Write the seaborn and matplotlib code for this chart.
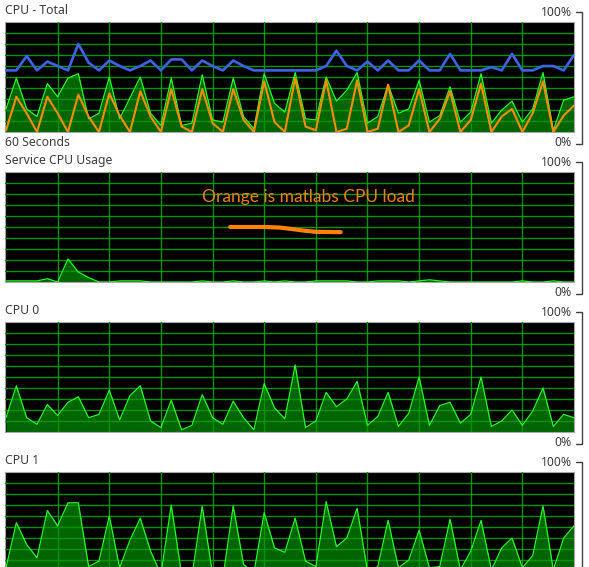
from matplotlib import pyplot as plt
import seaborn as sns
import pandas as pd
import numpy as np

# values, one sample per ~10 px, in percent
total_green = [21, 49, 21, 14, 44, 32, 49, 53, 12, 17, 50, 12, 31, 50, 17, 6, 49, 6, 8, 52,
               11, 9, 49, 14, 3, 53, 26, 18, 54, 12, 11, 50, 28, 38, 54, 8, 14, 43, 17, 21,
               47, 9, 15, 41, 9, 18, 53, 8, 20, 28, 9, 21, 54, 1.5, 29, 32]
total_blue = [56, 56, 69, 56, 64, 60, 56, 80, 63, 56, 65, 60, 56, 60, 65, 56, 66, 66, 56, 65,
              60, 56, 65, 60, 56, 56, 56, 56, 56, 56, 56, 60, 74, 60, 56, 64, 56, 65, 56, 56,
              65, 56, 56, 71, 56, 56, 56, 59, 56, 71, 56, 56, 60, 60, 56, 70]
total_orange = [1.5, 32, 17, 0, 32, 17, 0, 34, 14, 0, 35, 15, 0, 37, 14, 0, 39, 5, 0, 39,
                8, 0, 39, 11, 0, 46, 9, 0, 49, 5, 1.5, 47, 0, 3, 47, 0, 3, 43, 0, 6,
                39, 0, 12, 37, 0, 11, 44, 0, 14, 21, 0, 17, 46, 0, 15, 24]
service = [1, 1, 1, 1, 3, 0, 21, 9, 4, 0, 0, 1, 1, 1, 0, 0, 0, 0, 0, 1,
           0, 0, 1, 0, 0, 1, 0, 1, 0, 0, 1, 1, 1, 1, 0, 0, 1, 1, 1, 0,
           1, 2, 1, 0, 0, 0, 0, 0, 0, 0, 1, 0, 0, 1, 0, 0]
cpu0 = [13, 42, 13, 7, 25, 15, 27, 32, 13, 16, 38, 11, 33, 42, 10, 4, 29, 2, 6, 34,
        13, 7, 28, 13, 2, 44, 22, 12, 61, 4, 10, 36, 23, 30, 46, 6, 14, 36, 5, 17,
        50, 6, 24, 27, 8, 16, 50, 5, 10, 20, 6, 19, 40, 5, 16, 13]
cpu1 = [13, 54, 34, 22, 65, 51, 72, 72, 14, 19, 60, 13, 38, 58, 28, 7, 70, 7, 5, 69,
        7, 4, 69, 16, 8, 63, 31, 27, 58, 19, 14, 73, 32, 40, 67, 10, 14, 56, 13, 20,
        47, 13, 14, 57, 11, 28, 56, 11, 31, 40, 13, 24, 69, 11, 40, 51]

# hand drawn orange stroke on the service panel
matlab_x = [21.7, 25.0, 26.5, 27.8, 29.0, 30.0, 31.0, 32.4]
matlab_y = [50, 50, 49.5, 48, 46.5, 45.6, 45.5, 45.3]

titles = ["CPU - Total", "Service CPU Usage", "CPU 0", "CPU 1"]
panel_tops = [22, 172, 322, 472]          # pixel rows of the black plot areas
note = "Orange is matlabs CPU load"

W, H = 589, 567
GRID = "#009600"
FILL = "#006400"
LINE = "#22ff22"
TEXT = "#3c3c3c"

sns.set_style("dark", {"axes.facecolor": "black"})
plt.rcParams['font.family'] = ['Noto Sans', 'DejaVu Sans']

fig = plt.figure(figsize=(W / 100, H / 100), dpi=100)
t = np.arange(len(total_green))


def px(x, y):
    return x / W, 1 - y / H


def panel(top, values):
    ax = fig.add_axes([5 / W, 1 - (top + 110) / H, 569 / W, 110 / H])
    df = pd.DataFrame({"t": t, "v": values})
    ax.fill_between(df["t"], 0, df["v"], color=FILL, lw=0, zorder=1)
    sns.lineplot(data=df, x="t", y="v", ax=ax, color=LINE, lw=0.9, zorder=3)
    ax.set_xlim(-0.1, 55.0)
    ax.set_ylim(0, 100)
    ax.set_xticks(range(5, 55, 5))
    ax.set_yticks(range(10, 100, 10))
    ax.set_axisbelow(False)
    ax.grid(True, color=GRID, lw=1.0)
    ax.tick_params(length=0, labelbottom=False, labelleft=False)
    ax.set_xlabel("")
    ax.set_ylabel("")
    for s in ax.spines.values():
        s.set_visible(True)
        s.set_color("#a8a8a8")
        s.set_linewidth(0.8)
    return ax


axes = []
for top, vals in zip(panel_tops, [total_green, service, cpu0, cpu1]):
    axes.append(panel(top, vals))

df_tot = pd.DataFrame({"t": t, "blue": total_blue, "orange": total_orange})
sns.lineplot(data=df_tot, x="t", y="orange", ax=axes[0], color="#ff8c00", lw=1.5, zorder=4)
sns.lineplot(data=df_tot, x="t", y="blue", ax=axes[0], color="#3c64e6", lw=1.9, zorder=5)
axes[0].set_xlabel("")
axes[0].set_ylabel("")

df_ml = pd.DataFrame({"t": matlab_x, "v": matlab_y})
sns.lineplot(data=df_ml, x="t", y="v", ax=axes[1], color="#ff8200", lw=3.0, zorder=5)
axes[1].set_xlabel("")
axes[1].set_ylabel("")
axes[1].text(29.3, 77, note, color="#e8820e", fontsize=12.5, ha="center", va="center",
             family=["Lato", "DejaVu Sans"], zorder=6)

# labels, percent marks and the brackets on the right
for i, (top, title) in enumerate(zip(panel_tops, titles)):
    fig.text(*px(5, top - 11), title, fontsize=8.8, color=TEXT, ha="left", va="center")
    fig.text(*px(572, top - 10), "100%", fontsize=8.8, color=TEXT, ha="right", va="center")
    bottom = top + 122
    if i < 3:
        fig.text(*px(572, bottom - 1), "0%", fontsize=8.8, color=TEXT, ha="right", va="center")
    y0, y1 = top - 10, bottom
    xs = [576, 582, 582, 576]
    ys = [y0, y0, y1, y1]
    fig.add_artist(plt.Line2D([x / W for x in xs], [1 - y / H for y in ys],
                              color="#404040", lw=1.0))

fig.text(*px(5, 143), "60 Seconds", fontsize=8.8, color=TEXT, ha="left", va="center")

fig.savefig("out.png", dpi=100, facecolor="white")
